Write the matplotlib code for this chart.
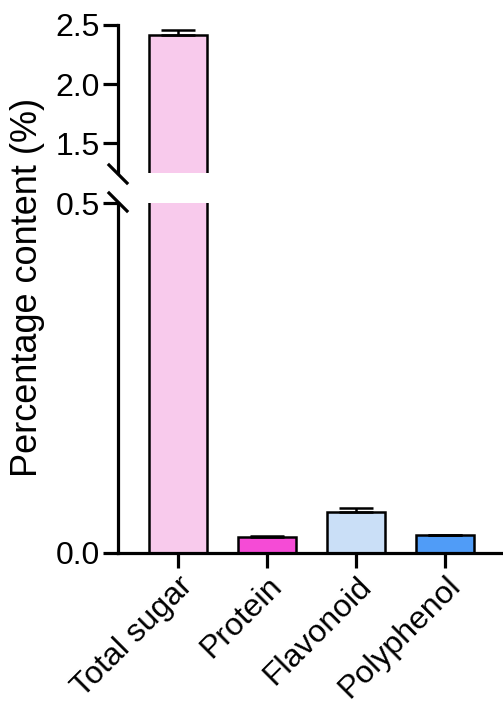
import numpy as np
import matplotlib.pyplot as plt

# data
categories = ["Total sugar", "Protein", "Flavonoid", "Polyphenol"]
means = [2.415, 0.023, 0.059, 0.026]
errors = [0.043, 0.0015, 0.005, 0.0]
colors = ["#F8CAEC", "#F54BD6", "#CADFF7", "#509CF7"]

plt.rcParams['font.family'] = ['Liberation Sans', 'DejaVu Sans']
plt.rcParams['font.size'] = 23

fig = plt.figure(figsize=(5.03, 7.13), dpi=100)
ax_top = fig.add_axes([118/503, (713-173)/713, 1-118/503, 148/713])
ax_bot = fig.add_axes([118/503, (713-553)/713, 1-118/503, 350/713])

x = np.arange(len(categories))
for ax in (ax_top, ax_bot):
    ax.bar(x, means, width=0.66, color=colors, edgecolor='black', linewidth=1.8,
           yerr=[np.zeros(len(errors)), errors], capsize=12,
           error_kw=dict(elinewidth=1.8, capthick=1.8, ecolor='black'))
    ax.set_xlim(-0.674, 3.652)
    for s in ['top', 'right']:
        ax.spines[s].set_visible(False)
    ax.spines['left'].set_linewidth(2.3)
    ax.spines['bottom'].set_linewidth(2.3)
    ax.tick_params(axis='both', length=11, width=2.3, pad=2, labelsize=23)

ax_top.set_ylim(1.25, 2.5)
ax_top.set_yticks([1.5, 2.0, 2.5])
ax_top.set_yticklabels(["1.5", "2.0", "2.5"])
ax_top.spines['bottom'].set_visible(False)
ax_top.set_xticks([])

ax_bot.set_ylim(0, 0.5)
ax_bot.set_yticks([0.0, 0.5])
ax_bot.set_yticklabels(["0.0", "0.5"])
ax_bot.set_xticks(x)
ax_bot.set_xticklabels(categories, rotation=45, ha='right', va='top',
                       rotation_mode='anchor')

# break marks
d = 9 / 503
dy = 9 / 713
for yb in [(713-174)/713, (713-202)/713]:
    fig.add_artist(plt.Line2D([118/503 - d, 118/503 + d], [yb + dy, yb - dy],
                              color='black', linewidth=2.3))

fig.text(28/503, (713-287)/713, "Percentage content (%)", rotation=90,
         ha='center', va='center', fontsize=26)

fig.savefig("out.png", dpi=100)
